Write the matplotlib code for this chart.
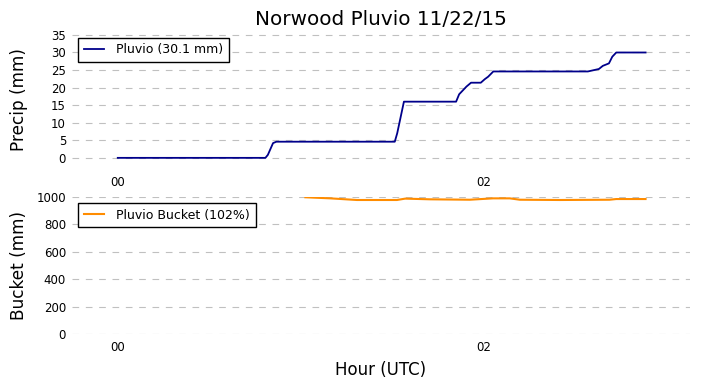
import matplotlib
matplotlib.use("Agg")
import matplotlib.pyplot as plt

# minutes after 00 UTC, accumulated precip (mm)
pluvio_min = [0, 48.4, 49.2, 50.9, 52.0, 90.8, 91.6, 93.8, 110.9, 111.9, 114.3,
              115.8, 119.0, 120.3, 121.4, 123.1, 154.1, 157.7, 159.0, 161.0,
              162.1, 163.4, 173.0]
pluvio_mm = [0, 0, 0.85, 4.2, 4.6, 4.6, 7.0, 16.0, 16.0, 18.1, 20.3,
             21.4, 21.4, 22.4, 23.1, 24.6, 24.6, 25.3, 26.2, 26.9,
             28.8, 30.0, 30.0]

# bucket content (mm)
bucket_min = [61.5, 69.7, 78.4, 91.5, 94.2, 102.4, 115.4, 123.0, 128.5,
              131.8, 144.9, 161.2, 163.4, 173.0]
bucket_mm = [998, 990, 978, 978, 988, 983, 980, 990, 990,
             980, 978, 980, 985, 985]

xtick_pos = [0, 120]
xtick_lbl = ["00", "02"]

fig = plt.figure(figsize=(7.01, 3.88), dpi=100)
ax1 = fig.add_axes([0.1027, 0.566, 0.8813, 0.353])
ax2 = fig.add_axes([0.1027, 0.1392, 0.8813, 0.3531])

for ax in (ax1, ax2):
    for s in ax.spines.values():
        s.set_visible(False)
    ax.set_xlim(-15, 187.5)
    ax.set_xticks(xtick_pos)
    ax.set_xticklabels(xtick_lbl)
    ax.tick_params(length=0, labelsize=8.5)
    ax.tick_params(axis="y", pad=4.3)
    ax.tick_params(axis="x", pad=5.3)
    ax.yaxis.grid(True, color="#c0c0c0", linestyle=(0, (6, 6)), linewidth=0.8)
    ax.set_axisbelow(True)

ax1.plot(pluvio_min, pluvio_mm, color="darkblue", lw=1.3, label="Pluvio (30.1 mm)")
ax1.set_ylim(-3, 36)
ax1.set_yticks(range(0, 36, 5))
ax1.set_ylabel("Precip (mm)", fontsize=12.2)
ax1.set_title("Norwood Pluvio 11/22/15", fontsize=14.4, pad=4.5)

ax2.plot(bucket_min, bucket_mm, color="darkorange", lw=1.5, label="Pluvio Bucket (102%)")
ax2.set_ylim(0, 1000)
ax2.set_yticks(range(0, 1001, 200))
ax2.set_ylabel("Bucket (mm)", fontsize=12.2)
ax2.set_xlabel("Hour (UTC)", fontsize=12, labelpad=4.5)

for ax in (ax1, ax2):
    ax.yaxis.set_label_coords(-0.072, 0.5)
    leg = ax.legend(loc="upper left", fontsize=9, fancybox=False, framealpha=1,
                    edgecolor="black", handlelength=1.6, handletextpad=1.0,
                    borderpad=0.45)
    leg.get_frame().set_linewidth(1.0)

fig.savefig("out.png", dpi=100)
